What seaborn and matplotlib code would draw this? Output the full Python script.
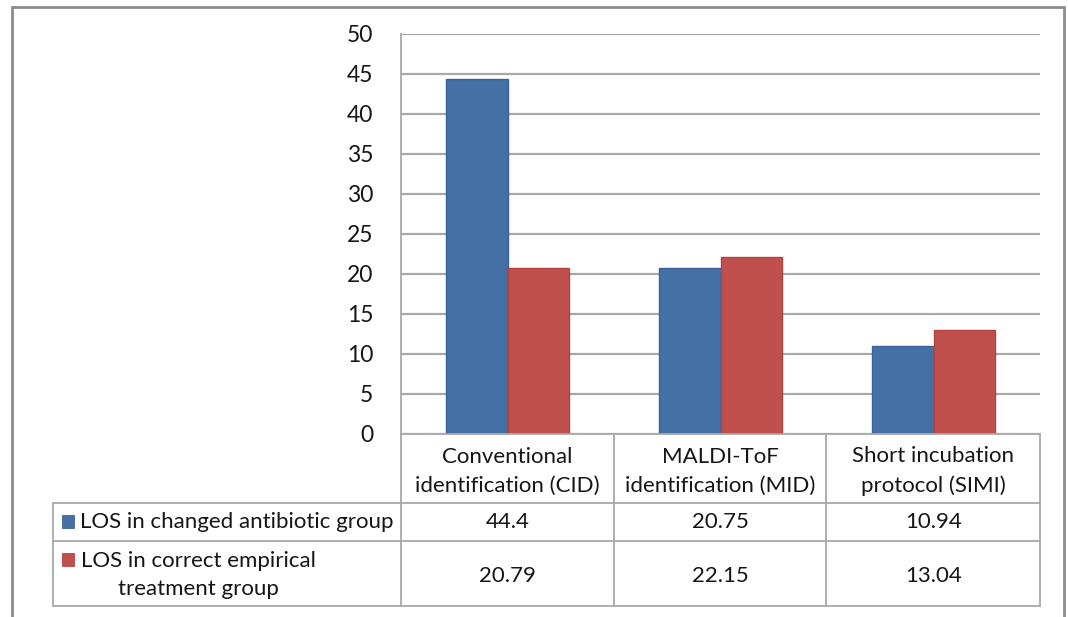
import matplotlib
matplotlib.use("Agg")
import matplotlib.pyplot as plt
from matplotlib.patches import Rectangle
from matplotlib.lines import Line2D
from matplotlib.transforms import blended_transform_factory
import pandas as pd
import seaborn as sns

# ---- data ----
methods = ["Conventional\nidentification (CID)",
           "MALDI-ToF\nidentification (MID)",
           "Short incubation\nprotocol (SIMI)"]
groups = ["LOS in changed antibiotic group",
          "LOS in correct empirical\ntreatment group"]
changed_los = [44.4, 20.75, 10.94]
correct_los = [20.79, 22.15, 13.04]
y_ticks = [0, 5, 10, 15, 20, 25, 30, 35, 40, 45, 50]
colors = ["#4470A6", "#C0504D"]
edge_colors = ["#3B639A", "#B5423F"]

df = pd.DataFrame({
    "method": methods * 2,
    "group": [groups[0]] * 3 + [groups[1]] * 3,
    "los": changed_los + correct_los,
})

sns.set_theme(style="white")
plt.rcParams["font.family"] = ["Lato", "DejaVu Sans"]
TXT = "#161616"
GRID = "#a8a8a8"
FS = 16

W, H = 1068, 617
fig = plt.figure(figsize=(W / 100, H / 100), dpi=100)
fig.patch.set_facecolor("white")


def fx(px):
    return px / W


def fy(py):
    return (H - py) / H


# plot area in pixels
L, R, T, B = 401, 1040, 34, 434
ax = fig.add_axes([fx(L), fy(B), fx(R) - fx(L), fy(T) - fy(B)])

sns.barplot(data=df, x="method", y="los", hue="group", palette=colors,
            width=0.573, gap=0, saturation=1, ax=ax, legend=False, zorder=3)
for container, ec in zip(ax.containers, edge_colors):
    for bar in container:
        bar.set_edgecolor(ec)
        bar.set_linewidth(1.0)

ax.set_ylim(0, 50)
ax.set_xlim(-0.5, 2.5)
ax.set_yticks(y_ticks)
ax.set_yticklabels([str(t) for t in y_ticks], fontsize=16.5, color=TXT)
ax.tick_params(axis="y", length=0, pad=20)
ax.set_xticks([])
ax.set_xlabel("")
ax.set_ylabel("")
ax.yaxis.grid(True, color=GRID, linewidth=1.6, zorder=0)
ax.set_axisbelow(True)
for s in ["top", "right", "bottom"]:
    ax.spines[s].set_visible(False)
ax.spines["left"].set_color(GRID)
ax.spines["left"].set_linewidth(1.3)

# ---- data table underneath ----
col_edges = [401, 614, 826, 1040]
row_lines = [503, 541, 606]
table_left = 53
lw = 1.3


def hline(y, x0, x1):
    fig.add_artist(Line2D([fx(x0), fx(x1)], [fy(y), fy(y)], color=GRID, lw=lw))


def vline(x, y0, y1):
    fig.add_artist(Line2D([fx(x), fx(x)], [fy(y0), fy(y1)], color=GRID, lw=lw))


hline(434, 401, 1040)
for y in row_lines:
    hline(y, table_left, 1040)
for x in col_edges:
    vline(x, 434, 606)
vline(table_left, 503, 606)

# column headers, placed at the category positions
tr = blended_transform_factory(ax.transData, fig.transFigure)
for i, m in enumerate(methods):
    ax.text(i, fy(471), m, transform=tr, ha="center", va="center",
            fontsize=FS, color=TXT, linespacing=1.55)

# values
for i, v in enumerate(changed_los):
    ax.text(i, fy(522), f"{v:g}", transform=tr, ha="center", va="center",
            fontsize=FS, color=TXT)
for i, v in enumerate(correct_los):
    ax.text(i, fy(576), f"{v:g}", transform=tr, ha="center", va="center",
            fontsize=FS, color=TXT)

# row labels with legend keys
fig.add_artist(Rectangle((fx(62), fy(528)), fx(12), 13 / H,
                         facecolor=colors[0], edgecolor=edge_colors[0], lw=0.6))
fig.add_artist(Rectangle((fx(62), fy(566)), fx(12), 13 / H,
                         facecolor=colors[1], edgecolor=edge_colors[1], lw=0.6))
fig.text(fx(80), fy(522), groups[0], ha="left", va="center",
         fontsize=FS, color=TXT)
fig.text(fx(198), fy(575), groups[1], ha="center", va="center",
         fontsize=FS, color=TXT, multialignment="center", linespacing=1.45)

# outer chart border
fig.add_artist(Rectangle((fx(12), fy(640)), fx(1064) - fx(12), (640 - 7) / H,
                         facecolor="none", edgecolor="#8c8c8c", lw=2.0))

fig.savefig("out.png", dpi=100, facecolor="white")
